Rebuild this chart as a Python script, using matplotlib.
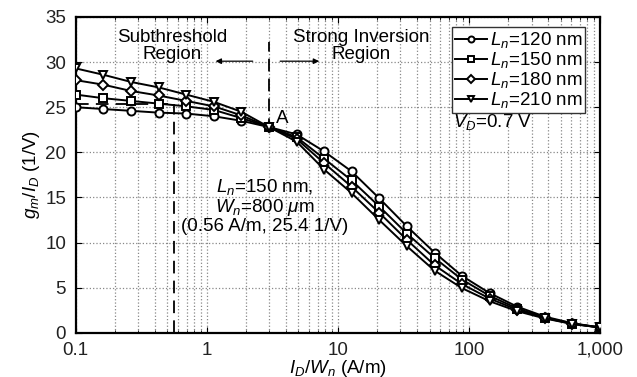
import matplotlib
matplotlib.use('Agg')
import matplotlib.pyplot as plt
from matplotlib.ticker import FixedLocator, FixedFormatter, LogLocator, NullFormatter

plt.rcParams['font.family'] = ['Liberation Sans', 'DejaVu Sans']
plt.rcParams['mathtext.fontset'] = 'custom'
plt.rcParams['mathtext.rm'] = 'Liberation Sans'
plt.rcParams['mathtext.it'] = 'Liberation Sans:italic'

# I_D/W_n (A/m)
current_density = [0.1, 0.162, 0.264, 0.428, 0.695, 1.13, 1.83, 2.98, 4.83, 7.85,
                   12.7, 20.7, 33.6, 54.6, 88.6, 144, 234, 379, 616, 1000]

# gm/ID (1/V) for each channel length
gm_id_120 = [25.0, 24.8, 24.6, 24.4, 24.3, 24.0, 23.5, 22.8, 22.0, 20.1,
             17.9, 14.9, 11.8, 8.9, 6.3, 4.4, 2.9, 1.8, 1.07, 0.6]
gm_id_150 = [26.4, 26.0, 25.7, 25.4, 25.1, 24.7, 23.8, 22.8, 21.7, 19.3,
             16.9, 14.0, 11.0, 8.3, 5.9, 4.1, 2.7, 1.7, 1.03, 0.6]
gm_id_180 = [28.0, 27.5, 26.8, 26.3, 25.7, 25.1, 24.1, 22.8, 21.5, 18.8,
             16.2, 13.3, 10.3, 7.5, 5.4, 3.8, 2.55, 1.65, 1.0, 0.6]
gm_id_210 = [29.3, 28.6, 27.8, 27.2, 26.4, 25.6, 24.5, 22.8, 21.2, 18.1,
             15.5, 12.5, 9.6, 6.9, 4.95, 3.5, 2.4, 1.6, 0.98, 0.6]

series = [
    (gm_id_120, 'o', r'$L_n$=120 nm'),
    (gm_id_150, 's', r'$L_n$=150 nm'),
    (gm_id_180, 'D', r'$L_n$=180 nm'),
    (gm_id_210, 'v', r'$L_n$=210 nm'),
]

# operating point marked on the plot
op_x, op_y = 0.56, 25.4
point_a_x = 2.98

fig = plt.figure(figsize=(6.37, 3.77), dpi=100)
ax = fig.add_axes([0.119, 0.117, 0.823, 0.838])

for vals, marker, label in series:
    ms = 5.0 if marker == 'D' else 5.8
    ax.plot(current_density, vals, color='black', lw=1.4, marker=marker,
            markersize=ms, markerfacecolor='white', markeredgecolor='black',
            markeredgewidth=1.4, label=label, zorder=3)

ax.set_xscale('log')
ax.set_xlim(0.1, 1000)
ax.set_ylim(0, 35)

ax.xaxis.set_major_locator(FixedLocator([0.1, 1, 10, 100, 1000]))
ax.xaxis.set_major_formatter(FixedFormatter(['0.1', '1', '10', '100', '1,000']))
ax.xaxis.set_minor_locator(LogLocator(base=10, subs=range(2, 10)))
ax.xaxis.set_minor_formatter(NullFormatter())
ax.set_yticks([0, 5, 10, 15, 20, 25, 30, 35])

ax.grid(True, which='major', color='#888888', linestyle=':', lw=0.9)
ax.grid(True, which='minor', axis='x', color='#888888', linestyle=':', lw=0.9)
ax.tick_params(which='both', direction='in', labelsize=13.5, top=True, right=True,
               labelcolor='#222222')
ax.tick_params(which='major', length=4)
ax.tick_params(which='minor', length=2)
ax.tick_params(axis='x', pad=6.5)
ax.tick_params(axis='y', pad=7)
for side in ax.spines.values():
    side.set_linewidth(1.6)

ax.set_xlabel(r'$I_D/W_n$ (A/m)', fontsize=13.5, labelpad=-1)
ax.set_ylabel(r'$g_m/I_D$ (1/V)', fontsize=13.5, labelpad=2)

# dashed guides for the operating point and the region boundary
dash = dict(color='black', lw=1.3, linestyle=(0, (7, 4)), zorder=2)
ax.plot([op_x, op_x], [0, op_y], **dash)
ax.plot([0.1, op_x], [op_y, op_y], **dash)
ax.plot([point_a_x, point_a_x], [22.4, 32.2], **dash)

arrow = dict(arrowstyle='-|>', color='black', lw=0.9, mutation_scale=8)
ax.annotate('', xy=(1.11, 30.1), xytext=(2.35, 30.1), arrowprops=arrow)
ax.annotate('', xy=(7.55, 30.1), xytext=(3.45, 30.1), arrowprops=arrow)

ax.text(0.54, 31.8, 'Subthreshold\nRegion', ha='center', va='center',
        fontsize=13.5, linespacing=1.0)
ax.text(15.0, 31.8, 'Strong Inversion\nRegion', ha='center', va='center',
        fontsize=13.5, linespacing=1.0)
ax.text(3.35, 23.8, 'A', fontsize=13.5, va='center')
ax.text(2.77, 14.1, '$L_n$=150 nm,\n$W_n$=800 $\\mu$m\n(0.56 A/m, 25.4 1/V)',
        ha='center', va='center', fontsize=13.5, linespacing=1.0)
ax.text(76, 23.4, '$V_D$=0.7 V', fontsize=13.5, va='center')

leg = ax.legend(loc='upper right', bbox_to_anchor=(0.982, 0.985), fontsize=13.5,
                frameon=True, fancybox=False, handlelength=1.7,
                handletextpad=0.15, borderpad=0.15, labelspacing=0.0,
                borderaxespad=0.3, markerscale=0.75)
leg.get_frame().set_edgecolor('#333333')
leg.get_frame().set_linewidth(1.0)
leg.get_frame().set_alpha(1)

fig.savefig('out.png', dpi=100)
